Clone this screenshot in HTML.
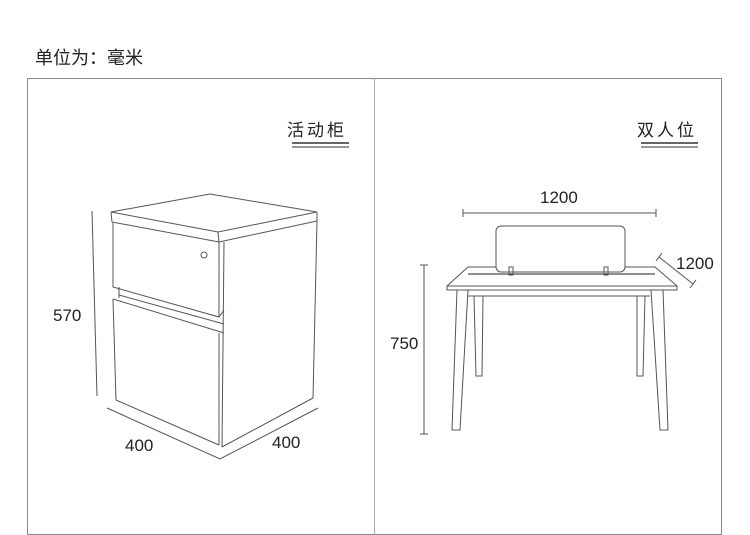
<!DOCTYPE html>
<html><head><meta charset="utf-8"><style>
html,body{margin:0;padding:0;background:#fff;}
svg{display:block;}
text{font-family:"Liberation Sans","Noto Sans CJK SC",sans-serif;fill:#222;}
</style></head><body>
<svg width="750" height="535" viewBox="0 0 750 535" xmlns="http://www.w3.org/2000/svg">
<text x="35" y="64" font-size="18">单位为：毫米</text>
<rect x="27.5" y="78.5" width="694" height="456" fill="none" stroke="#888" stroke-width="1"/>
<line x1="374.5" y1="78" x2="374.5" y2="535" stroke="#aaa" stroke-width="1"/>
<text x="287" y="136" font-size="17" letter-spacing="3">活动柜</text>
<line x1="292" y1="143" x2="349" y2="143" stroke="#333" stroke-width="1.5"/>
<line x1="292" y1="147" x2="349" y2="147" stroke="#333" stroke-width="1"/>
<text x="637" y="136" font-size="17" letter-spacing="3">双人位</text>
<line x1="641" y1="143" x2="698" y2="143" stroke="#333" stroke-width="1.5"/>
<line x1="641" y1="147" x2="698" y2="147" stroke="#333" stroke-width="1"/>
<g fill="none" stroke="#555" stroke-width="1">
<polygon points="111,212 210,194 317,212 218,232"/>
<polyline points="112,222 219,242 317,221"/>
<line x1="111" y1="212" x2="112" y2="222"/>
<line x1="218" y1="232" x2="219" y2="242"/>
<line x1="317" y1="212" x2="317" y2="221"/>
<line x1="224" y1="242" x2="222" y2="447"/>
<line x1="219" y1="242" x2="219" y2="317"/>
<line x1="317" y1="221" x2="313" y2="398"/>
<line x1="313" y1="398" x2="222" y2="447"/>
<polyline points="113,223 113,287 219,317 224,310"/>
<line x1="119" y1="287" x2="119" y2="298"/>
<polyline points="113,299 224,333"/>
<line x1="119" y1="295" x2="224" y2="324"/>
<line x1="113" y1="299" x2="116" y2="400"/>
<line x1="116" y1="400" x2="219" y2="445"/>
<line x1="219" y1="333" x2="219" y2="445"/>
<circle cx="204" cy="255" r="3"/>
<line x1="92" y1="211" x2="97" y2="396"/>
<polyline points="107,408 220,459 318,408"/>
<line x1="463" y1="213" x2="656" y2="213"/>
<line x1="463" y1="209" x2="463" y2="217"/>
<line x1="656" y1="209" x2="656" y2="217"/>
<rect x="496" y="226" width="129" height="46" rx="5"/>
<polyline points="447,286 468,267 496,267"/>
<polyline points="625,267 655,267 677,286"/>
<line x1="468" y1="274" x2="655" y2="274" stroke="#222"/>
<rect x="447" y="286" width="230" height="4"/>
<line x1="468" y1="296" x2="650" y2="296"/>
<polygon points="457,290 468,290 460,430 452,430"/>
<polygon points="474,296 483,296 482,376 476,376"/>
<polygon points="651,290 663,290 668,430 660,430"/>
<polygon points="637,296 645,296 643,376 637,376"/>
<rect x="509" y="267" width="4" height="8"/>
<rect x="604" y="267" width="4" height="8"/>
<line x1="659" y1="257" x2="693" y2="284"/>
<line x1="656" y1="261" x2="662" y2="253"/>
<line x1="690" y1="288" x2="696" y2="280"/>
<line x1="424" y1="265" x2="424" y2="434"/>
<line x1="420" y1="265" x2="428" y2="265"/>
<line x1="420" y1="434" x2="428" y2="434"/>
</g>
<g font-size="17">
<text x="53" y="321">570</text>
<text x="125" y="451">400</text>
<text x="272" y="448">400</text>
<text x="540" y="203">1200</text>
<text x="676" y="269">1200</text>
<text x="390" y="349">750</text>
</g>
</svg>
</body></html>
